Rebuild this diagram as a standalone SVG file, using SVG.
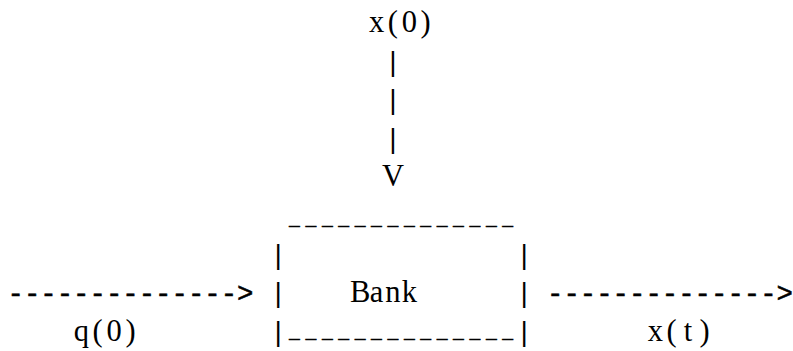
<svg xmlns="http://www.w3.org/2000/svg" width="793" height="351" viewBox="0 0 793 351">
<style>
text{font-family:"Liberation Mono","Courier New",monospace;font-size:27.33px;fill:#000;white-space:pre}
text.lbl{font-family:"Liberation Serif","Times New Roman",serif;font-size:30.5px;text-anchor:middle}
text.us{font-size:18px;text-anchor:middle;stroke:#000;stroke-width:0.5}
text.arr{stroke:#000;stroke-width:0.5}
</style>
<rect width="793" height="351" fill="#fff"/>
<g id="connectors">
<text x="384.7" y="70.6">|</text>
<text x="384.7" y="109.2">|</text>
<text x="384.7" y="147.8">|</text>
<text class="lbl" x="392.9" y="186.4">V</text>
<text class="arr" x="7.5" y="302.2">-------------&#45;&gt;</text>
<text class="arr" x="547" y="302.2">-------------&#45;&gt;</text>
</g>
<g id="node-x0">
<text class="lbl" x="376.5 392.9 409.3 425.7" y="32">x(0)</text>
</g>
<g id="node-bank">
<text class="us" x="294.5 310.9 327.3 343.7 360.1 376.5 392.9 409.3 425.7 442.1 458.5 474.9 491.3 507.7" y="225">______________</text>
<text x="269.9" y="263.6">|</text>
<text x="515.9" y="263.6">|</text>
<text x="269.9" y="302.2">|</text>
<text x="515.9" y="302.2">|</text>
<text class="lbl" x="360.1 376.5 392.9 409.3" y="302.2">Bank</text>
<text x="269.9" y="340.8">|</text>
<text class="us" x="294.5 310.9 327.3 343.7 360.1 376.5 392.9 409.3 425.7 442.1 458.5 474.9 491.3 507.7" y="338">______________</text>
<text x="515.9" y="340.8">|</text>
</g>
<g id="node-q0">
<text class="lbl" x="81.3 97.7 114.1 130.5" y="340.8">q(0)</text>
</g>
<g id="node-xt">
<text class="lbl" x="655.3 671.7 688.1 704.5" y="340.8">x(t)</text>
</g>
</svg>
